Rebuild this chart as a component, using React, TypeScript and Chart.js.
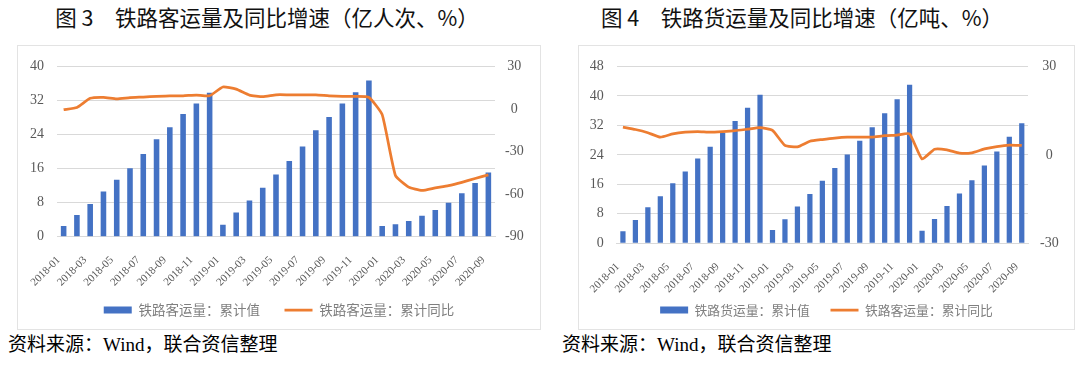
import React, { useEffect, useRef } from 'react';
import { Chart, registerables } from 'chart.js';

Chart.register(...registerables);

const months = [
  '2018-01', '2018-02', '2018-03', '2018-04', '2018-05', '2018-06', '2018-07', '2018-08', '2018-09', '2018-10', '2018-11', '2018-12',
  '2019-01', '2019-02', '2019-03', '2019-04', '2019-05', '2019-06', '2019-07', '2019-08', '2019-09', '2019-10', '2019-11', '2019-12',
  '2020-01', '2020-02', '2020-03', '2020-04', '2020-05', '2020-06', '2020-07', '2020-08', '2020-09',
];

// 铁路客运量：累计值（亿人次）
const passengerVolume = [
  2.5, 5.1, 7.7, 10.6, 13.4, 16.1, 19.4, 22.9, 25.7, 28.8, 31.3, 33.8,
  2.8, 5.7, 8.5, 11.5, 14.6, 17.8, 21.2, 25.0, 28.1, 31.3, 33.9, 36.7,
  2.5, 2.9, 3.7, 4.9, 6.3, 8.0, 10.2, 12.6, 15.1,
];
// 铁路客运量：累计同比（%）
const passengerYoY = [
  -0.5, 1.1, 7.5, 8.2, 7.1, 8.0, 8.4, 8.9, 9.3, 9.3, 9.8, 9.3,
  15.5, 14.0, 9.8, 8.7, 10.0, 10.0, 10.0, 10.0, 9.3, 8.9, 8.9, 8.2,
  -4.0, -46.9, -55.1, -57.4, -55.6, -54.0, -51.7, -49.0, -46.4,
];
// 铁路货运量：累计值（亿吨）
const freightVolume = [
  3.3, 6.3, 9.8, 12.8, 16.3, 19.5, 23.0, 26.2, 30.0, 33.2, 36.8, 40.3,
  3.6, 6.5, 10.0, 13.4, 17.0, 20.4, 24.1, 27.8, 31.5, 35.3, 39.1, 43.0,
  3.4, 6.6, 10.1, 13.5, 17.1, 21.1, 24.9, 28.9, 32.6,
];
// 累计同比（%）
const freightYoY = [
  9.4, 8.6, 7.5, 6.0, 7.1, 7.7, 7.9, 7.7, 7.9, 8.2, 8.7, 9.2,
  8.3, 3.2, 2.7, 4.6, 5.2, 5.7, 6.0, 6.0, 6.0, 6.5, 6.7, 7.1,
  -1.4, 1.9, 1.7, 0.6, 0.7, 2.0, 2.8, 3.3, 3.2,
];

// axis ranges: [min, max, step]
const passengerLeftAxis = [0, 40, 8];
const passengerRightAxis = [-90, 30, 30];
const freightLeftAxis = [0, 48, 8];
const freightRightAxis = [-30, 30, 30];

const BLUE = '#4472C4';
const ORANGE = '#ED7D31';
const GRID = '#D9D9D9';
const TICK = '#595959';
const SERIF = '"Liberation Serif", "Times New Roman", "DejaVu Serif", serif';

type Geo = {
  width: number;
  height: number;
  leftW: number;
  rightW: number;
  padTop: number;
  padBottom: number;
  xH: number;
  rightPad: number;
  legendFont: number;
  legendSpacer: string;
};

function ComboChart(props: {
  volume: number[];
  yoy: number[];
  volumeLabel: string;
  yoyLabel: string;
  leftAxis: number[];
  rightAxis: number[];
  geo: Geo;
}) {
  const ref = useRef<HTMLCanvasElement | null>(null);
  const { volume, yoy, volumeLabel, yoyLabel, leftAxis, rightAxis, geo } = props;

  useEffect(() => {
    if (!ref.current) return;
    const defaultGen = (Chart.defaults as any).plugins.legend.labels.generateLabels;
    const chart = new Chart(ref.current, {
      type: 'bar',
      data: {
        labels: months,
        datasets: [
          {
            type: 'line',
            label: yoyLabel,
            data: yoy,
            yAxisID: 'y1',
            borderColor: ORANGE,
            backgroundColor: ORANGE,
            borderWidth: 2.75,
            pointRadius: 0,
            pointStyle: 'line',
            tension: 0.15,
          } as any,
          {
            type: 'bar',
            label: volumeLabel,
            data: volume,
            yAxisID: 'y',
            backgroundColor: BLUE,
            borderWidth: 0,
            barPercentage: 0.42,
            categoryPercentage: 1,
            pointStyle: 'rect',
          } as any,
        ],
      },
      options: {
        responsive: false,
        animation: false,
        devicePixelRatio: 1,
        layout: { padding: { top: geo.padTop, bottom: geo.padBottom, left: 0, right: 0 } },
        plugins: {
          tooltip: { enabled: false },
          legend: {
            position: 'bottom',
            reverse: true,
            labels: {
              usePointStyle: true,
              pointStyleWidth: 28,
              boxHeight: 7,
              padding: 8,
              color: '#7F7F7F',
              font: { family: '"Noto Sans CJK SC", sans-serif', size: geo.legendFont },
              generateLabels: (c: any) => {
                const items = defaultGen(c);
                return items.map((it: any) =>
                  it.datasetIndex === 1 ? { ...it, text: it.text + geo.legendSpacer } : it
                );
              },
            },
          } as any,
        },
        scales: {
          x: {
            grid: { display: false },
            border: { display: true, color: GRID },
            ticks: {
              autoSkip: false,
              maxRotation: 45,
              minRotation: 45,
              padding: 9,
              labelOffset: -5,
              color: TICK,
              font: { family: SERIF, size: 11 },
              callback: (_v: any, i: number) => (i % 2 === 0 ? months[i] : ''),
            },
            afterFit: (s: any) => {
              s.height = geo.xH;
            },
          },
          y: {
            position: 'left',
            min: leftAxis[0],
            max: leftAxis[1],
            grid: { color: GRID, drawTicks: false, lineWidth: 1 },
            border: { display: false },
            ticks: {
              stepSize: leftAxis[2],
              padding: 13,
              color: TICK,
              font: { family: SERIF, size: 14 },
            },
            afterFit: (s: any) => {
              s.width = geo.leftW;
            },
          },
          y1: {
            position: 'right',
            min: rightAxis[0],
            max: rightAxis[1],
            grid: { display: false, drawTicks: false },
            border: { display: false },
            ticks: {
              stepSize: rightAxis[2],
              padding: geo.rightPad,
              crossAlign: 'center',
              color: TICK,
              font: { family: SERIF, size: 14 },
            },
            afterFit: (s: any) => {
              s.width = geo.rightW;
            },
          },
        },
      } as any,
    });
    return () => chart.destroy();
  }, []);

  return <canvas ref={ref} width={geo.width} height={geo.height} style={{ display: 'block' }} />;
}

const titleStyle: React.CSSProperties = {
  position: 'absolute',
  top: 3,
  fontFamily: '"Noto Sans CJK SC", sans-serif',
  fontSize: 21.5,
  fontWeight: 400,
  color: '#111',
  whiteSpace: 'pre',
  lineHeight: '28px',
  textAlign: 'center',
};

const sourceStyle: React.CSSProperties = {
  position: 'absolute',
  top: 332,
  fontFamily: '"Liberation Serif", "Noto Sans CJK SC", serif',
  fontSize: 19,
  fontWeight: 400,
  color: '#000',
  whiteSpace: 'pre',
  lineHeight: '26px',
};

export default function App() {
  return (
    <div style={{ position: 'absolute', left: 0, top: 0, width: 1080, height: 366, background: '#fff', overflow: 'hidden' }}>
      <div style={{ ...titleStyle, left: 37, width: 460 }}>图 3　铁路客运量及同比增速（亿人次、%）</div>
      <div style={{ ...titleStyle, left: 582, width: 440 }}>图 4　铁路货运量及同比增速（亿吨、%）</div>

      <div style={{ position: 'absolute', left: 17, top: 45, width: 524, height: 285, border: '1px solid #E3E3E3', boxSizing: 'border-box' }}>
        <div style={{ position: 'absolute', left: -1, top: -1 }}>
          <ComboChart
            volume={passengerVolume}
            yoy={passengerYoY}
            volumeLabel="铁路客运量：累计值"
            yoyLabel="铁路客运量：累计同比"
            leftAxis={passengerLeftAxis}
            rightAxis={passengerRightAxis}
            geo={{ width: 524, height: 285, leftW: 40, rightW: 46, padTop: 17.3, padBottom: 3.25, xH: 58.55, rightPad: 10, legendFont: 13.5, legendSpacer: '\u3000 ' }}
          />
        </div>
      </div>

      <div style={{ position: 'absolute', left: 578, top: 45, width: 497, height: 285, border: '1px solid #E3E3E3', boxSizing: 'border-box' }}>
        <div style={{ position: 'absolute', left: -1, top: -1 }}>
          <ComboChart
            volume={freightVolume}
            yoy={freightYoY}
            volumeLabel="铁路货运量：累计值"
            yoyLabel="铁路客运量：累计同比"
            leftAxis={freightLeftAxis}
            rightAxis={freightRightAxis}
            geo={{ width: 497, height: 285, leftW: 38.7, rightW: 47, padTop: 20, padBottom: 3.6, xH: 52.3, rightPad: 12, legendFont: 12.8, legendSpacer: '\u3000' }}
          />
        </div>
      </div>

      <div style={{ ...sourceStyle, left: 8 }}>资料来源：Wind，联合资信整理</div>
      <div style={{ ...sourceStyle, left: 562 }}>资料来源：Wind，联合资信整理</div>
    </div>
  );
}
